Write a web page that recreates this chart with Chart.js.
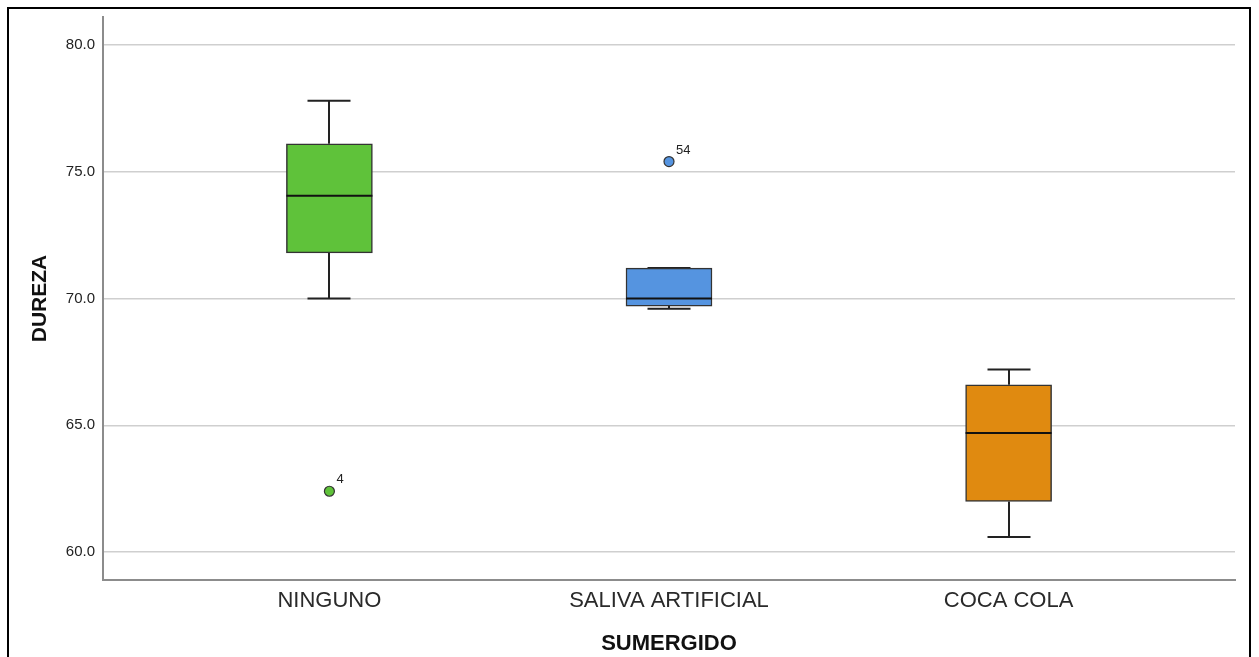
<!DOCTYPE html>
<html>
<head>
<meta charset="utf-8">
<script src="https://cdn.jsdelivr.net/npm/chart.js@4/dist/chart.umd.min.js"></script>
<style>
  html, body { margin: 0; padding: 0; background: #fff; overflow: hidden; }
  canvas { display: block; }
</style>
</head>
<body>
<canvas id="c" width="1259" height="657"></canvas>
<script>
// Groups and five-number summaries of DUREZA per SUMERGIDO group
const categories  = ['NINGUNO', 'SALIVA ARTIFICIAL', 'COCA COLA'];
const whiskerLow  = [70.0, 69.6, 60.6];
const q1          = [71.8, 69.7, 62.0];
const median      = [74.05, 70.0, 64.7];
const q3          = [76.1, 71.2, 66.6];
const whiskerHigh = [77.8, 71.2, 67.2];

// Outlying cases: group position (1-based), value and case number
const outlierGroup = [1, 2];
const outlierValue = [62.4, 75.4];
const outlierCase  = ['4', '54'];

const yTicks = [60, 65, 70, 75, 80];
const boxColors = ['#5fc23a', '#5594e0', '#e08a10'];

const FONT = "'Liberation Sans', Arial, sans-serif";
const INK = '#222';

// Outer frame around the figure
const framePlugin = {
  id: 'frame',
  beforeDraw(chart) {
    const ctx = chart.ctx;
    ctx.save();
    ctx.fillStyle = '#fff';
    ctx.fillRect(0, 0, chart.width, chart.height);
    ctx.strokeStyle = '#000';
    ctx.lineWidth = 2;
    ctx.strokeRect(8, 8, 1242, 700);
    ctx.restore();
  }
};

// Whiskers, caps, medians and case labels for the box plot
const boxPlotPlugin = {
  id: 'boxplot',
  beforeDatasetsDraw(chart) {
    const {ctx, scales: {x, y}} = chart;
    const capHalf = 21.5;
    ctx.save();
    ctx.strokeStyle = INK;
    ctx.lineWidth = 2;
    categories.forEach((c, i) => {
      const px = Math.round(x.getPixelForValue(i + 1));
      const yl = y.getPixelForValue(whiskerLow[i]);
      const yh = y.getPixelForValue(whiskerHigh[i]);
      const yq1 = y.getPixelForValue(q1[i]);
      const yq3 = y.getPixelForValue(q3[i]);
      ctx.beginPath();
      ctx.moveTo(px, yq1); ctx.lineTo(px, yl);
      ctx.moveTo(px, yq3); ctx.lineTo(px, yh);
      ctx.moveTo(px - capHalf, yl); ctx.lineTo(px + capHalf, yl);
      ctx.moveTo(px - capHalf, yh); ctx.lineTo(px + capHalf, yh);
      ctx.stroke();
    });
    ctx.restore();
  },
  afterDatasetsDraw(chart) {
    const {ctx, scales: {x, y}} = chart;
    ctx.save();
    ctx.strokeStyle = '#111';
    ctx.lineWidth = 2;
    categories.forEach((c, i) => {
      const px = x.getPixelForValue(i + 1);
      const ym = y.getPixelForValue(median[i]);
      ctx.beginPath();
      ctx.moveTo(px - 43, ym); ctx.lineTo(px + 43, ym);
      ctx.stroke();
    });
    ctx.fillStyle = INK;
    ctx.font = '13px ' + FONT;
    ctx.textAlign = 'left';
    ctx.textBaseline = 'alphabetic';
    outlierCase.forEach((t, k) => {
      const px = x.getPixelForValue(outlierGroup[k]);
      const py = y.getPixelForValue(outlierValue[k]);
      ctx.fillText(t, px + 7, py - 8);
    });
    ctx.restore();
  }
};

new Chart(document.getElementById('c'), {
  type: 'bar',
  data: {
    datasets: [
      {
        type: 'bar',
        data: categories.map((c, i) => ({x: i + 1, y: [q1[i], q3[i]]})),
        backgroundColor: boxColors,
        borderColor: '#333',
        borderWidth: 1.5,
        borderSkipped: false,
        barThickness: 86,
        grouped: false,
        order: 2
      },
      {
        type: 'scatter',
        data: outlierValue.map((v, k) => ({x: outlierGroup[k], y: v})),
        backgroundColor: outlierGroup.map(g => boxColors[g - 1]),
        borderColor: '#333',
        borderWidth: 1.2,
        pointRadius: 5,
        order: 1
      }
    ]
  },
  options: {
    responsive: false,
    animation: false,
    events: [],
    layout: { padding: { left: 8, right: 24, top: 16, bottom: 0 } },
    plugins: { legend: { display: false }, tooltip: { enabled: false } },
    scales: {
      x: {
        type: 'linear',
        offset: false,
        min: 1 / 3,
        max: 11 / 3,
        afterBuildTicks(scale) { scale.ticks = [1, 2, 3].map(v => ({value: v})); },
        afterFit(scale) { scale.height = 77; },
        grid: { display: false, drawTicks: false, offset: false },
        border: { display: true, color: '#8c8c8c', width: 2 },
        ticks: {
          autoSkip: false,
          maxRotation: 0,
          padding: 8,
          color: '#2a2a2a',
          font: { family: FONT, size: 22 },
          callback: v => categories[v - 1]
        },
        title: {
          display: true,
          text: 'SUMERGIDO',
          color: '#111',
          font: { family: FONT, size: 22, weight: 'bold' },
          padding: { top: 0, bottom: 0 }
        }
      },
      y: {
        min: 58.9,
        max: 81.1,
        afterBuildTicks(scale) { scale.ticks = yTicks.map(v => ({value: v})); },
        afterFit(scale) { scale.width = 95; },
        grid: { color: '#cfcfcf', lineWidth: 1.6, drawTicks: false },
        border: { display: true, color: '#8c8c8c', width: 2 },
        ticks: {
          padding: 8,
          color: INK,
          font: { family: FONT, size: 15 },
          callback: v => Number(v).toFixed(1)
        },
        title: {
          display: true,
          text: 'DUREZA',
          color: '#111',
          font: { family: FONT, size: 21, weight: 'bold' },
          padding: { top: 20, bottom: 0 }
        }
      }
    }
  },
  plugins: [framePlugin, boxPlotPlugin]
});
</script>
</body>
</html>
